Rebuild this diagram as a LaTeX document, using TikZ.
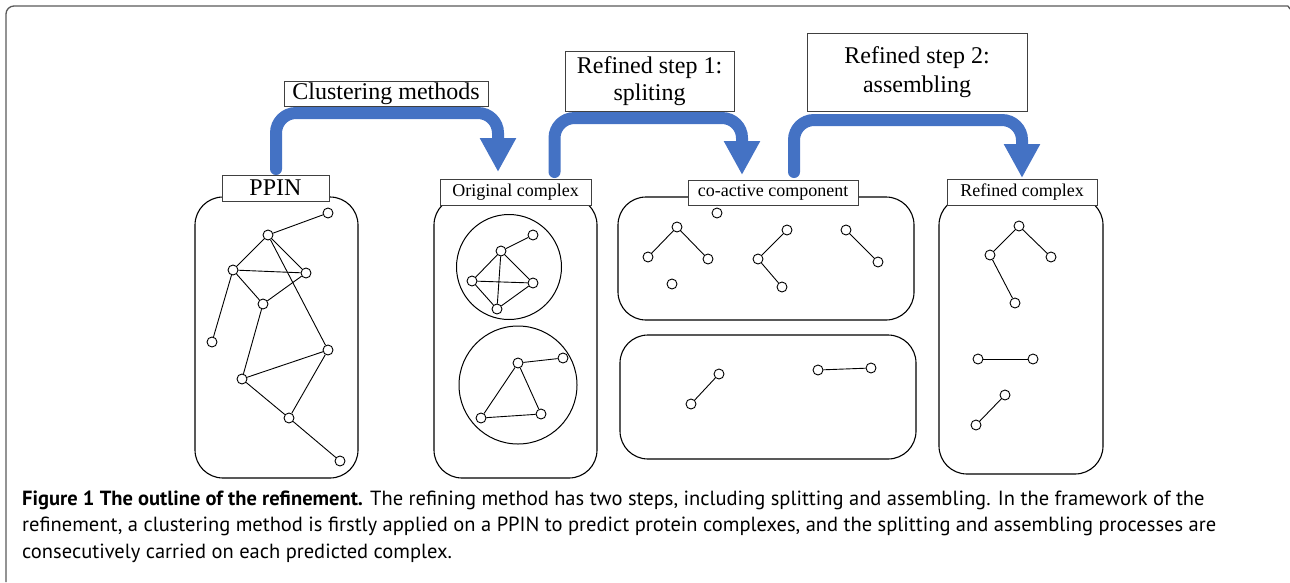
\documentclass[tikz,border=0pt]{standalone}
\usepackage{fontspec}
\setmainfont{Liberation Serif}
\newfontfamily\capfont[FakeStretch=1.0]{PT Sans}
\usetikzlibrary{arrows.meta,calc}
\definecolor{flowblue}{HTML}{4472C4}
\begin{document}
\begin{tikzpicture}[x=1pt,y=-1pt,
  vtx/.style={circle,draw,fill=white,inner sep=0pt,minimum size=10pt,line width=0.9pt},
  edge/.style={line width=0.9pt},
  panel/.style={draw,rounded corners=28pt,line width=1.1pt,inner sep=0pt},
  grp/.style={circle,draw,line width=1pt,inner sep=0pt},
  lbl/.style={draw=black!75,fill=white,line width=1pt,inner sep=0pt,align=center},
  smalllbl/.style={lbl,font=\fontsize{18}{20}\selectfont},
  biglbl/.style={lbl,font=\fontsize{24}{27}\selectfont},
  flow/.style={draw=flowblue,line width=12pt,rounded corners=20pt,line cap=round,-{Triangle[width=34pt,length=34pt]}},
  frame/.style={draw=black!65,line width=1.3pt,rounded corners=8pt},
  captext/.style={anchor=base west,inner sep=0pt,font=\capfont\fontsize{20.5}{26}\selectfont}]
\useasboundingbox (0,0) rectangle (1290,582);
% outer frame
\coordinate (fa) at (6,582);
\coordinate (fb) at (6,6);
\coordinate (fc) at (1288,6);
\coordinate (fd) at (1290,9);
\draw[frame] (fa) -- (fb) -- (fc);
\draw[draw=black!65,line width=1.3pt] (fc) -- (fd);

% panels
\node[panel,minimum width=163pt,minimum height=281pt] (ppinbox) at (276.5,337.5) {};
\node[panel,minimum width=163pt,minimum height=281pt] (origbox) at (515.5,337.5) {};
\node[panel,minimum width=296pt,minimum height=123pt] (cobox) at (766,258.5) {};
\node[panel,minimum width=296pt,minimum height=124pt] (cobox2) at (768,397) {};
\node[panel,minimum width=164pt,minimum height=277pt] (refbox) at (1021,335.5) {};

% group circles
\node[grp,minimum size=105pt] (g1) at (509,267) {};
\node[grp,minimum size=118pt] (g2) at (518,385) {};

% blue flow arrows
\coordinate (s1) at (276,169);
\coordinate (t1) at (498,172);
\coordinate (s2) at (554.5,172);
\coordinate (t2) at (742,175);
\coordinate (s3) at (794,172);
\coordinate (t3) at (1022,178);
\draw[flow] (s1) -- (s1 |- 0,113) -- (t1 |- 0,113) -- (t1);
\draw[flow] (s2) -- (s2 |- 0,118) -- (t2 |- 0,118) -- (t2);
\draw[flow] (s3) -- (s3 |- 0,120) -- (t3 |- 0,120) -- (t3);

% panel labels
\node[lbl,minimum width=107pt,minimum height=26pt,font=\fontsize{24}{26}\selectfont] (ppinlbl) at (275.5,188) {PPIN};
\node[smalllbl,minimum width=151pt,minimum height=26pt] (origlbl) at (515.5,192) {Original complex};
\node[smalllbl,minimum width=170pt,minimum height=25pt] (colbl) at (773,192.5) {co-active component};
\node[smalllbl,minimum width=150pt,minimum height=26pt] (reflbl) at (1022,192) {Refined complex};

% arrow labels
\node[biglbl,minimum width=204pt,minimum height=25pt] (clus) at (386,93.5) {Clustering methods};
\node[biglbl,minimum width=169pt,minimum height=60pt] (step1) at (649.5,81) {Refined step 1:\\spliting};
\node[lbl,font=\fontsize{24}{29}\selectfont,minimum width=220pt,minimum height=78pt] (step2) at (917,72) {Refined step 2:\\assembling};

% PPIN graph
\node[vtx] (p1) at (328,213) {};
\node[vtx] (p2) at (268,235) {};
\node[vtx] (p3) at (233,270) {};
\node[vtx] (p4) at (306,273) {};
\node[vtx] (p5) at (263,304) {};
\node[vtx] (p6) at (212,342) {};
\node[vtx] (p7) at (328,350) {};
\node[vtx] (p8) at (242,379) {};
\node[vtx] (p9) at (289,418) {};
\node[vtx] (p10) at (340,461) {};
\draw[edge] (p1) -- (p2);
\draw[edge] (p2) -- (p3);
\draw[edge] (p2) -- (p4);
\draw[edge] (p3) -- (p4);
\draw[edge] (p3) -- (p5);
\draw[edge] (p4) -- (p5);
\draw[edge] (p2) -- (p7);
\draw[edge] (p3) -- (p6);
\draw[edge] (p5) -- (p8);
\draw[edge] (p8) -- (p7);
\draw[edge] (p8) -- (p9);
\draw[edge] (p7) -- (p9);
\draw[edge] (p9) -- (p10);

% original complex graphs
\node[vtx] (a1) at (533,235) {};
\node[vtx] (a2) at (501,251) {};
\node[vtx] (a3) at (472,281) {};
\node[vtx] (a4) at (533,283) {};
\node[vtx] (a5) at (497,309) {};
\draw[edge] (a1) -- (a2);
\draw[edge] (a2) -- (a3);
\draw[edge] (a2) -- (a4);
\draw[edge] (a2) -- (a5);
\draw[edge] (a3) -- (a4);
\draw[edge] (a3) -- (a5);
\draw[edge] (a4) -- (a5);
\node[vtx] (b1) at (518,363) {};
\node[vtx] (b2) at (563,358) {};
\node[vtx] (b3) at (481,418) {};
\node[vtx] (b4) at (541,414) {};
\draw[edge] (b1) -- (b2);
\draw[edge] (b1) -- (b3);
\draw[edge] (b1) -- (b4);
\draw[edge] (b3) -- (b4);

% co-active components
\node[vtx] (c0) at (717,213) {};
\node[vtx] (c1) at (677,227) {};
\node[vtx] (c2) at (648,257) {};
\node[vtx] (c3) at (708,259) {};
\node[vtx] (c4) at (672,284) {};
\node[vtx] (c5) at (787,230) {};
\node[vtx] (c6) at (758,259) {};
\node[vtx] (c7) at (782,287) {};
\node[vtx] (c8) at (846,230) {};
\node[vtx] (c9) at (878,262) {};
\draw[edge] (c1) -- (c2);
\draw[edge] (c1) -- (c3);
\draw[edge] (c5) -- (c6);
\draw[edge] (c6) -- (c7);
\draw[edge] (c8) -- (c9);
\node[vtx] (d1) at (719,374) {};
\node[vtx] (d2) at (691,404) {};
\node[vtx] (d3) at (818,370) {};
\node[vtx] (d4) at (871,368) {};
\draw[edge] (d1) -- (d2);
\draw[edge] (d3) -- (d4);

% refined complex
\node[vtx] (r1) at (1019,226) {};
\node[vtx] (r2) at (990,255) {};
\node[vtx] (r3) at (1051,257) {};
\node[vtx] (r4) at (1015,303) {};
\node[vtx] (r5) at (978,359) {};
\node[vtx] (r6) at (1033,359) {};
\node[vtx] (r7) at (1005,395) {};
\node[vtx] (r8) at (976,425) {};
\draw[edge] (r1) -- (r2);
\draw[edge] (r1) -- (r3);
\draw[edge] (r2) -- (r4);
\draw[edge] (r5) -- (r6);
\draw[edge] (r7) -- (r8);

% caption
\node[captext] (cap1) at (22,505) {\textbf{Figure 1 The outline of the refinement.} The refining method has two steps, including splitting and assembling. In the framework of the};
\node[captext] (cap2) at (22,531) {refinement, a clustering method is firstly applied on a PPIN to predict protein complexes, and the splitting and assembling processes are};
\node[captext] (cap3) at (22,558) {consecutively carried on each predicted complex.};
\end{tikzpicture}
\end{document}
